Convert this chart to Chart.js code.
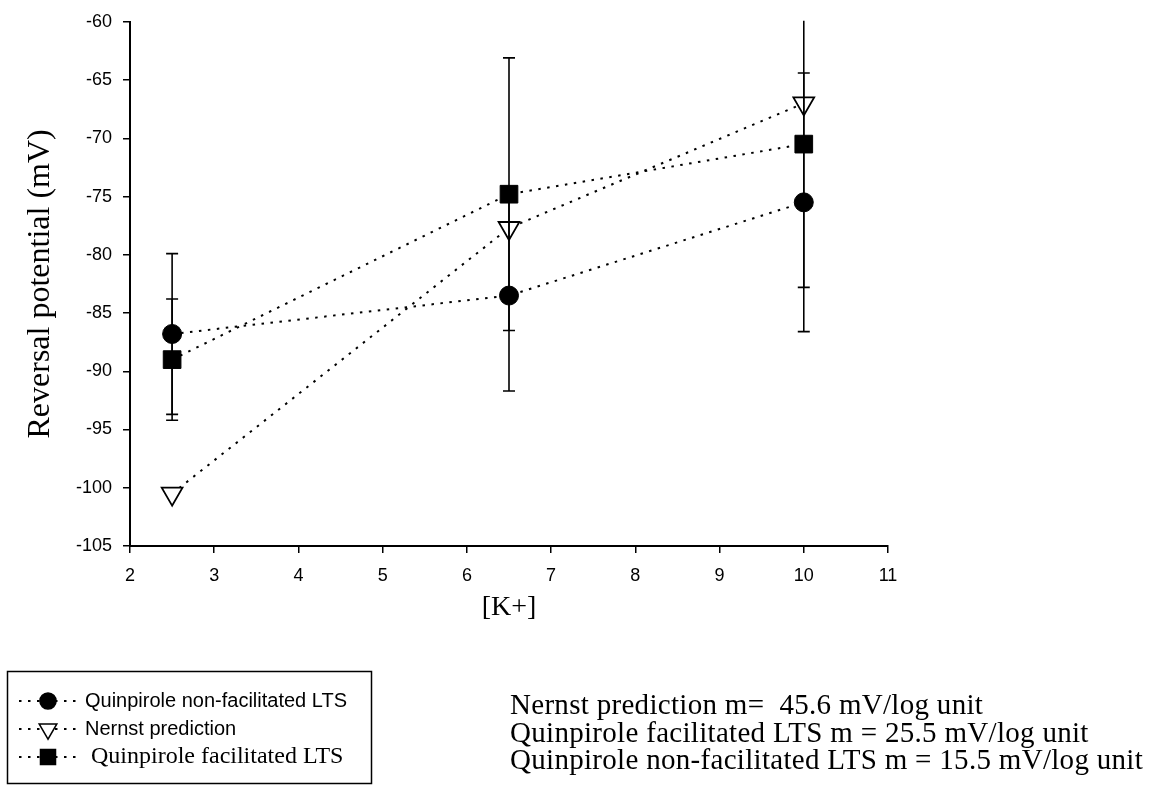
<!DOCTYPE html>
<html>
<head>
<meta charset="utf-8">
<script src="https://cdn.jsdelivr.net/npm/chart.js@4"></script>
<style>
  body { margin: 0; background: #fff; }
  #wrap { position: relative; width: 1151px; height: 787px; }
  #notes {
    position: absolute; left: 510px; top: 691px;
    font-family: "Liberation Serif", "Times New Roman", serif;
    font-size: 29px; line-height: 27.5px; letter-spacing: 0.3px; color: #000; white-space: pre;
  }
</style>
</head>
<body>
<div id="wrap">
  <canvas id="chartKrev"></canvas>
  <div id="notes">Nernst prediction m=  45.6 mV/log unit
Quinpirole facilitated LTS m = 25.5 mV/log unit
Quinpirole non-facilitated LTS m = 15.5 mV/log unit</div>
</div>
<script>
// [K+] concentrations
var kConc = [2.5, 6.5, 10];

// reversal potentials (mV) and error bar half-lengths
var nonFacMean = [-86.8, -83.5, -75.5];
var nonFacErr = [6.9, 8.2, 11.1];
var nernstPred = [-100.5, -77.7, -67.0];
var facMean = [-89.0, -74.8, -70.5];
var facErr = [5.2, 11.7, 12.3];

var xTicks = [2, 3, 4, 5, 6, 7, 8, 9, 10, 11];
var yTicks = [-105, -100, -95, -90, -85, -80, -75, -70, -65, -60];

var seriesNames = ["Quinpirole non-facilitated LTS", "Nernst prediction", " Quinpirole facilitated LTS"];

function points(ys) {
  return kConc.map(function (x, i) { return { x: x, y: ys[i] }; });
}

var sans = "'Liberation Sans', Arial, sans-serif";
var serif = "'Liberation Serif', 'Times New Roman', serif";

// vertical error bars, clipped to the plot area like the original
var errorBars = {
  id: 'errorBars',
  afterDatasetsDraw: function (chart) {
    var ctx = chart.ctx, ys = chart.scales.y, area = chart.chartArea;
    ctx.save();
    ctx.beginPath();
    ctx.rect(area.left, area.top - 1, area.right - area.left, area.bottom - area.top + 2);
    ctx.clip();
    ctx.strokeStyle = '#000';
    ctx.lineWidth = 1.6;
    chart.data.datasets.forEach(function (ds, di) {
      if (!ds.errors) return;
      var meta = chart.getDatasetMeta(di);
      meta.data.forEach(function (pt, i) {
        var v = ds.data[i].y, e = ds.errors[i];
        var top = ys.getPixelForValue(v + e), bot = ys.getPixelForValue(v - e);
        ctx.beginPath();
        ctx.moveTo(pt.x, top); ctx.lineTo(pt.x, bot);
        ctx.moveTo(pt.x - 6, top); ctx.lineTo(pt.x + 6, top);
        ctx.moveTo(pt.x - 6, bot); ctx.lineTo(pt.x + 6, bot);
        ctx.stroke();
      });
    });
    ctx.restore();
  }
};

// boxed legend under the plot, with dotted line samples
var boxLegend = {
  id: 'boxLegend',
  afterDraw: function (chart) {
    var ctx = chart.ctx;
    ctx.save();
    ctx.strokeStyle = '#000';
    ctx.lineWidth = 1.5;
    ctx.strokeRect(7.5, 671.5, 364, 112);
    chart.data.datasets.forEach(function (ds, i) {
      var y = 701 + i * 28;
      ctx.save();
      ctx.setLineDash(ds.borderDash);
      ctx.lineWidth = 2;
      ctx.beginPath();
      ctx.moveTo(19, y); ctx.lineTo(79, y);
      ctx.stroke();
      ctx.restore();
      ctx.fillStyle = ds.pointBackgroundColor;
      ctx.strokeStyle = '#000';
      ctx.lineWidth = 1.5;
      Chart.helpers.drawPoint(ctx, {
        pointStyle: ds.pointStyle,
        radius: ds.pointRadius * 0.85,
        rotation: ds.pointRotation || 0,
        borderWidth: 1.5
      }, 48, y);
      ctx.fillStyle = '#000';
      ctx.textBaseline = 'middle';
      ctx.font = ds.legendFont;
      ctx.fillText(ds.label, 85, y);
    });
    ctx.restore();
  }
};

new Chart(document.getElementById('chartKrev'), {
  type: 'line',
  data: {
    datasets: [{
      label: seriesNames[0],
      data: points(nonFacMean),
      errors: nonFacErr,
      pointStyle: 'circle',
      pointRadius: 9.5,
      pointBackgroundColor: '#000',
      legendFont: '20px ' + sans
    }, {
      label: seriesNames[1],
      data: points(nernstPred),
      pointStyle: 'triangle',
      pointRotation: 180,
      pointRadius: 12,
      pointBackgroundColor: '#fff',
      pointBorderWidth: 1.8,
      legendFont: '20px ' + sans
    }, {
      label: seriesNames[2],
      data: points(facMean),
      errors: facErr,
      pointStyle: 'rect',
      pointRadius: 12.5,
      pointBackgroundColor: '#000',
      legendFont: '24px ' + serif
    }].map(function (ds) {
      ds.borderColor = '#000';
      ds.borderWidth = 2;
      ds.borderDash = [2.5, 6.5];
      ds.pointBorderColor = '#000';
      if (!ds.pointBorderWidth) ds.pointBorderWidth = 1;
      ds.fill = false;
      ds.tension = 0;
      return ds;
    })
  },
  options: {
    responsive: true,
    maintainAspectRatio: false,
    animation: false,
    layout: { padding: { left: 17, right: 263, top: 20, bottom: 159 } },
    plugins: { legend: { display: false }, tooltip: { enabled: false } },
    scales: {
      x: {
        type: 'linear',
        min: 2, max: 11,
        afterBuildTicks: function (s) { s.ticks = xTicks.map(function (v) { return { value: v }; }); },
        afterFit: function (s) { s.height = 82; },
        ticks: { color: '#000', font: { family: sans, size: 18 }, padding: 12, maxRotation: 0 },
        grid: { drawOnChartArea: false, drawTicks: true, tickLength: 7, color: '#000', lineWidth: 1.5 },
        border: { color: '#000', width: 2 },
        title: { display: true, text: '[K+]', color: '#000', font: { family: serif, size: 28 }, padding: { top: 0, bottom: 4 } }
      },
      y: {
        min: -105, max: -60,
        afterBuildTicks: function (s) { s.ticks = yTicks.map(function (v) { return { value: v }; }); },
        afterFit: function (s) { s.width = 113; },
        ticks: { color: '#000', font: { family: sans, size: 18 }, padding: 11 },
        grid: { drawOnChartArea: false, drawTicks: true, tickLength: 7, color: '#000', lineWidth: 1.5 },
        border: { color: '#000', width: 2 },
        title: { display: true, text: 'Reversal potential (mV)', color: '#000', font: { family: serif, size: 32 }, padding: { top: 4, bottom: 0 } }
      }
    }
  },
  plugins: [errorBars, boxLegend]
});
</script>
</body>
</html>
